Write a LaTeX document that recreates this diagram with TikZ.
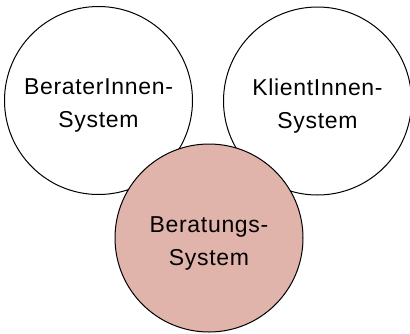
\documentclass[tikz,border=0pt]{standalone}
\usepackage{fontspec}
\setmainfont{Liberation Sans}[LetterSpace=3]
\definecolor{pinkfill}{RGB}{224,179,171}
\begin{document}
\begin{tikzpicture}[x=1pt,y=-1pt,
  sysc/.style={circle,draw=black,line width=1pt,minimum size=188pt,inner sep=0pt,fill=white},
  lbl/.style={align=center,font=\fontsize{23}{33}\selectfont,inner sep=0pt}]
\useasboundingbox (0,0) rectangle (410,333);
\node[sysc] (berater) at (98.5,100.5) {};
\node[sysc] (klient) at (317.5,101) {};
\node[sysc,fill=pinkfill] (beratung) at (209,238) {};
\node[lbl] (tberater) at ([yshift=-5pt]berater.center) {BeraterInnen-\\System};
\node[lbl] (tklient) at ([yshift=-5pt]klient.center) {KlientInnen-\\System};
\node[lbl] (tberatung) at ([yshift=-5pt]beratung.center) {Beratungs-\\System};
\end{tikzpicture}
\end{document}
